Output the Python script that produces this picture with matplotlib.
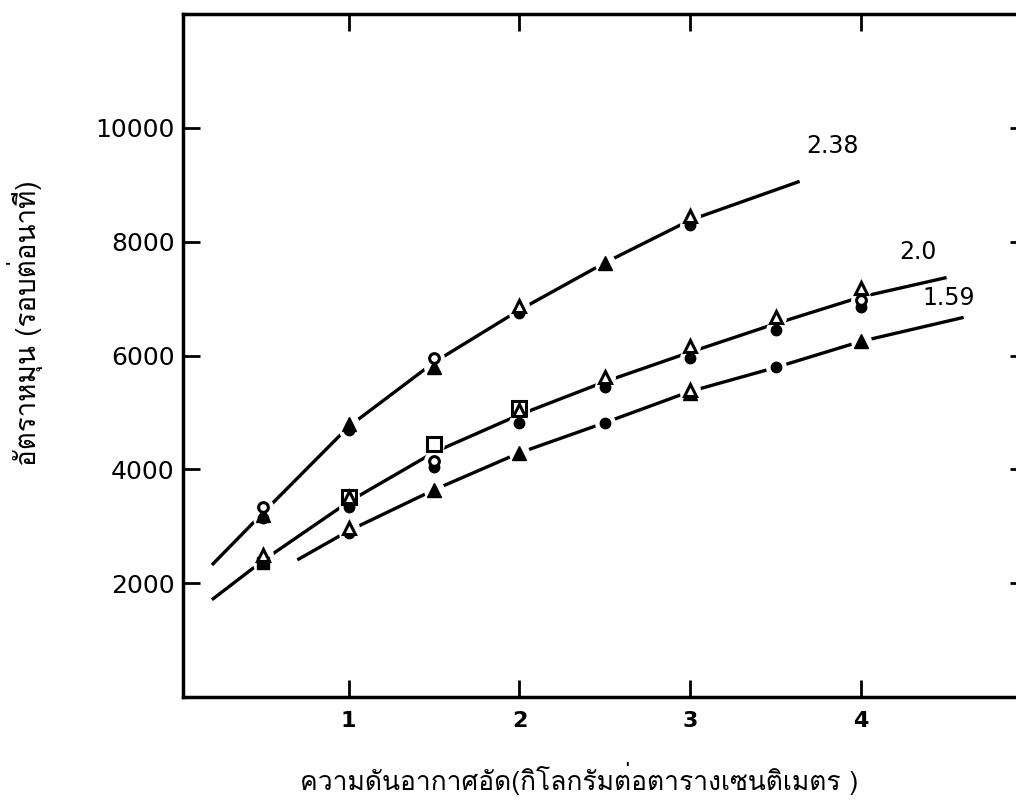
import matplotlib
matplotlib.use("Agg")
import matplotlib.pyplot as plt
from matplotlib import font_manager
from matplotlib.ft2font import FT2Font


def thai_family():
    # first installed font that carries Thai glyphs
    for f in font_manager.fontManager.ttflist:
        try:
            if ord("ก") in FT2Font(f.fname).get_charmap():
                return f.name
        except Exception:
            continue
    return "DejaVu Sans"


THAI = thai_family()

# fitted curves, one per ratio
curve_labels = ["2.38", "2.0", "1.59"]
curve_x = [
    [0.2, 0.5, 1.0, 1.5, 2.0, 2.5, 3.0, 3.64],
    [0.2, 0.5, 1.0, 1.5, 2.0, 2.5, 3.0, 3.5, 4.0, 4.5],
    [0.7, 1.0, 1.5, 2.0, 2.5, 3.0, 3.5, 4.0, 4.6],
]
curve_y = [
    [2320, 3240, 4750, 5880, 6800, 7630, 8380, 9060],
    [1710, 2400, 3430, 4300, 4960, 5540, 6060, 6560, 7030, 7370],
    [2410, 2920, 3640, 4290, 4820, 5370, 5790, 6250, 6670],
]
label_pos = [(3.83, 9675), (4.33, 7827), (4.51, 7018)]

# measured points (pressure, rpm) grouped by symbol
open_circle_x = [0.5, 1.5, 1.5, 4.0]
open_circle_y = [3340, 5950, 4150, 6980]
filled_circle_x = [0.5, 1.0, 2.0, 3.0, 1.0, 1.5, 2.0, 2.5, 3.0, 3.5, 4.0, 1.0, 2.5, 3.5]
filled_circle_y = [3150, 4700, 6750, 8300, 3340, 4050, 4820, 5450, 5960, 6450, 6860, 2880, 4820, 5790]
open_tri_x = [2.0, 3.0, 0.5, 1.0, 2.0, 2.5, 3.0, 3.5, 4.0, 1.0, 3.0]
open_tri_y = [6870, 8450, 2500, 3520, 5050, 5630, 6160, 6670, 7190, 2970, 5400]
filled_tri_x = [0.5, 1.0, 1.5, 2.5, 1.5, 2.0, 3.0, 4.0]
filled_tri_y = [3200, 4800, 5800, 7630, 3640, 4290, 5350, 6250]
open_sq_x = [1.0, 1.5, 2.0]
open_sq_y = [3520, 4450, 5080]
filled_sq_x = [0.5]
filled_sq_y = [2350]

x_ticks = [1, 2, 3, 4]
y_ticks = [2000, 4000, 6000, 8000, 10000]

fig = plt.figure(figsize=(10.16, 8.01), dpi=100)
ax = fig.add_axes([0.180, 0.1298, 0.8307, 0.8527])

for xs, ys in zip(curve_x, curve_y):
    ax.plot(xs, ys, color="black", lw=2.4, solid_capstyle="butt", zorder=2)

# white halo so the curves break around the symbols
all_x = open_circle_x + filled_circle_x + open_tri_x + filled_tri_x + open_sq_x + filled_sq_x
all_y = open_circle_y + filled_circle_y + open_tri_y + filled_tri_y + open_sq_y + filled_sq_y
ax.plot(all_x, all_y, ls="none", marker="o", ms=15, mfc="white", mec="none", zorder=3)

ax.plot(filled_circle_x, filled_circle_y, ls="none", marker="o", ms=7.5,
        mfc="black", mec="black", zorder=4)
ax.plot(filled_tri_x, filled_tri_y, ls="none", marker="^", ms=10,
        mfc="black", mec="black", zorder=4)
ax.plot(filled_sq_x, filled_sq_y, ls="none", marker="s", ms=9,
        mfc="black", mec="black", zorder=4)
ax.plot(open_sq_x, open_sq_y, ls="none", marker="s", ms=10,
        mfc="white", mec="black", mew=2.2, zorder=5)
ax.plot(open_circle_x, open_circle_y, ls="none", marker="o", ms=7,
        mfc="white", mec="black", mew=2.2, zorder=6)
ax.plot(open_tri_x, open_tri_y, ls="none", marker="^", ms=9,
        mfc="white", mec="black", mew=2.2, zorder=6)

for lab, (tx, ty) in zip(curve_labels, label_pos):
    ax.text(tx, ty, lab, fontsize=17, ha="center", va="center", color="black")

ax.set_xlim(0.03, 4.97)
ax.set_ylim(0, 12000)
ax.set_xticks(x_ticks)
ax.set_yticks(y_ticks)
ax.set_xticklabels([str(t) for t in x_ticks], fontsize=16, fontweight="bold")
ax.set_yticklabels([str(t) for t in y_ticks], fontsize=18)

for s in ax.spines.values():
    s.set_linewidth(2.5)
ax.tick_params(axis="both", which="major", direction="in", length=12, width=2,
               top=True, right=True, colors="black")
ax.tick_params(axis="x", pad=10)
ax.tick_params(axis="y", pad=6)

ax.set_xlabel("ความดันอากาศอัด(กิโลกรัมต่อตารางเซนติเมตร )",
              family=[THAI, "DejaVu Sans"], fontsize=19, va="center")
ax.xaxis.set_label_coords(0.47, -0.12)
ax.set_ylabel("อัตราหมุน (รอบต่อนาที)", family=[THAI, "DejaVu Sans"],
              fontsize=20, va="center")
ax.yaxis.set_label_coords(-0.187, 0.548)

fig.savefig("out.png", dpi=100)
